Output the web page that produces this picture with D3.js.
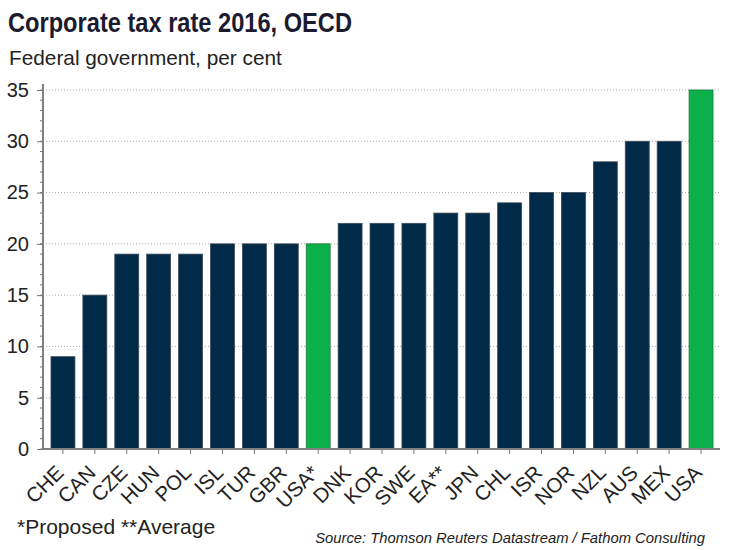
<!DOCTYPE html>
<html><head><meta charset="utf-8">
<script src="https://cdn.jsdelivr.net/npm/d3@7"></script>
<style>
body{margin:0;background:#fff;}
text{font-family:"Liberation Sans",Arial,sans-serif;}
</style></head>
<body>
<svg id="chart" width="745" height="550"></svg>
<script>
const categories = ["CHE","CAN","CZE","HUN","POL","ISL","TUR","GBR","USA*","DNK","KOR","SWE","EA**","JPN","CHL","ISR","NOR","NZL","AUS","MEX","USA"];
const values = [9,15,19,19,19,20,20,20,20,22,22,22,23,23,24,25,25,28,30,30,35];
const highlighted = ["USA*","USA"];
const yTicks = [0,5,10,15,20,25,30,35];

(function(){
const svg = d3.select("#chart");
const mLeft = 43, mRight = 720, mTop = 90, mBottom = 449;
const x = d3.scaleBand().domain(categories).range([47, 717]).paddingInner(0.25).paddingOuter(0.125);
const y = d3.scaleLinear().domain([0,35]).range([mBottom, mTop]);

svg.append("text").attr("x",8).attr("y",32).attr("font-size",28.5).attr("font-weight","bold").attr("fill","#1b1b2f")
  .attr("textLength",344).attr("lengthAdjust","spacingAndGlyphs").text("Corporate tax rate 2016, OECD");
svg.append("text").attr("x",9).attr("y",65).attr("font-size",20.8).attr("fill","#222").text("Federal government, per cent");

// gridlines
svg.append("g").selectAll("line").data(yTicks.filter(d=>d>0)).join("line")
  .attr("x1",mLeft).attr("x2",mRight).attr("y1",d=>y(d)).attr("y2",d=>y(d))
  .attr("stroke","#aaa").attr("stroke-width",1).attr("stroke-dasharray","1,2");

// bars
svg.append("g").selectAll("rect").data(categories).join("rect")
  .attr("x",d=>x(d)).attr("width",x.bandwidth())
  .attr("y",(d,i)=>y(values[i])).attr("height",(d,i)=>y(0)-y(values[i]))
  .attr("fill",d=>highlighted.includes(d)?"#0bb04a":"#002a48")
  .attr("stroke",d=>highlighted.includes(d)?"#1f7a3a":"#3a4a5a").attr("stroke-width",0.8);

// y axis minor ticks
const minor = d3.range(0,36);
svg.append("g").selectAll("line").data(minor).join("line")
  .attr("x1",mLeft-3).attr("x2",mLeft).attr("y1",d=>y(d)).attr("y2",d=>y(d))
  .attr("stroke","#777").attr("stroke-width",1);
const yAxis = d3.axisLeft(y).tickValues(yTicks).tickSize(6).tickPadding(8);
const gy = svg.append("g").attr("transform",`translate(${mLeft},0)`).call(yAxis);
gy.select(".domain").attr("stroke","#808080").attr("stroke-width",2).attr("d",`M0,${mTop-6}V${mBottom}`);
gy.selectAll(".tick line").attr("stroke","#777");
gy.selectAll(".tick text").attr("font-size",20).attr("fill","#222").attr("font-family","Liberation Sans, Arial, sans-serif");

// x axis
const xAxis = d3.axisBottom(x).tickSize(5).tickSizeOuter(0);
const gx = svg.append("g").attr("transform",`translate(0,${mBottom})`).call(xAxis);
gx.select(".domain").attr("stroke","#808080").attr("stroke-width",2).attr("d",`M${mLeft},0H${mRight}`);
gx.selectAll(".tick line").attr("stroke","#777");
gx.selectAll(".tick text").attr("font-size",20.5).attr("fill","#222").attr("font-family","Liberation Sans, Arial, sans-serif")
  .attr("text-anchor","end").attr("dy",0).attr("y",0)
  .attr("transform","translate(2,25) rotate(-45)");

svg.append("text").attr("x",17).attr("y",534).attr("font-size",21).attr("fill","#222").text("*Proposed **Average");
svg.append("text").attr("x",705).attr("y",543).attr("text-anchor","end").attr("font-size",14.8).attr("font-style","italic").attr("fill","#222").text("Source: Thomson Reuters Datastream / Fathom Consulting");
})();
</script>
</body></html>
